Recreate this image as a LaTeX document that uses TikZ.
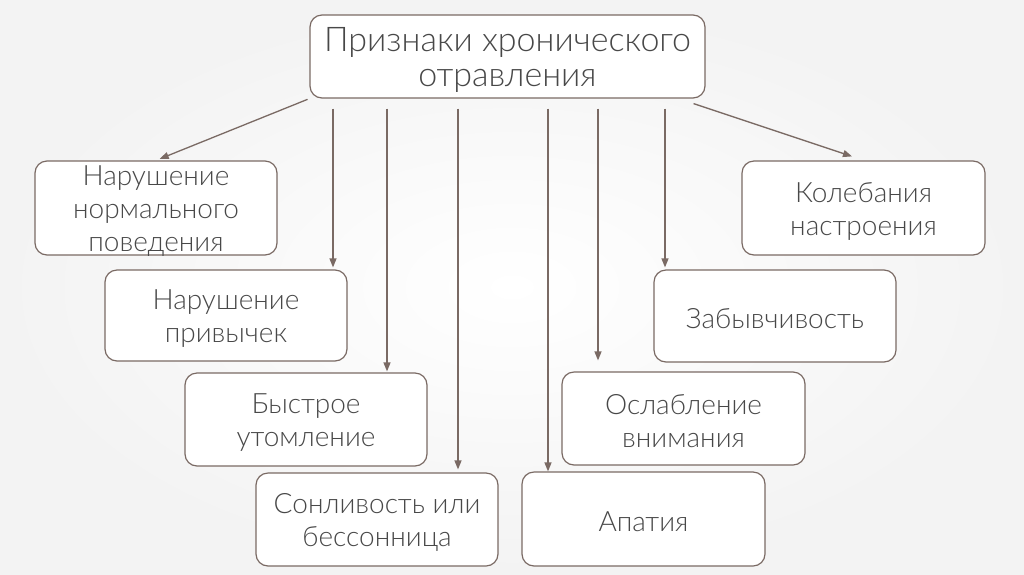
\documentclass[tikz,border=0pt]{standalone}
\usepackage{fontspec}
\setmainfont{Lato Light}
\usetikzlibrary{arrows.meta,calc}
\definecolor{edge}{RGB}{122,106,100}
\definecolor{txt}{RGB}{72,72,72}
\definecolor{bgout}{RGB}{243,243,243}
\begin{document}
\begin{tikzpicture}[x=1pt,y=-1pt,
  box/.style={draw=edge,line width=1.2pt,fill=white,rounded corners=12pt,
    inner sep=0pt,minimum width=242pt},
  lbl/.style={inner sep=0pt,align=center,text=txt,font=\fontsize{28}{33}\selectfont},
  arr/.style={draw=edge,line width=1.3pt,-{Triangle[length=9pt,width=7pt]}}]
\useasboundingbox (0,0) rectangle (1024,574);
\shade[inner color=white,outer color=bgout] (0,0) rectangle (1024,574);
\node[box,minimum width=395pt,minimum height=83pt] (top) at (507.5,56.5) {};
\node[lbl,font=\fontsize{34}{35}\selectfont] (ttop) at ($(top.center)+(0,3.5)$) {Признаки хронического\\отравления};
\node[box,minimum height=94pt] (b1) at (156,208) {};
\node[lbl] (t1) at ($(b1.center)+(0,3)$) {Нарушение\\нормального\\поведения};
\node[box,minimum height=91pt] (b2) at (226,315.5) {};
\node[lbl] (t2) at ($(b2.center)+(0,3)$) {Нарушение\\привычек};
\node[box,minimum height=93pt] (b3) at (306,419.5) {};
\node[lbl] (t3) at ($(b3.center)+(0,3)$) {Быстрое\\утомление};
\node[box,minimum height=93pt] (b4) at (377,519.5) {};
\node[lbl] (t4) at ($(b4.center)+(0,3)$) {Сонливость или\\бессонница};
\node[box,minimum width=243pt,minimum height=94pt] (b5) at (643.5,519) {};
\node[lbl] (t5) at ($(b5.center)+(0,3)$) {Апатия};
\node[box,minimum width=243pt,minimum height=93pt] (b6) at (683.5,418.5) {};
\node[lbl] (t6) at ($(b6.center)+(0,3)$) {Ослабление\\внимания};
\node[box,minimum height=92pt] (b7) at (775,316) {};
\node[lbl] (t7) at ($(b7.center)+(0,3)$) {Забывчивость};
\node[box,minimum width=243pt,minimum height=94pt] (b8) at (863.5,208) {};
\node[lbl] (t8) at ($(b8.center)+(0,3)$) {Колебания\\настроения};
\draw[arr,shorten <=2pt,shorten >=4pt] (top.south west) -- (b1.north);
\draw[arr] ($(top.south east)+(-12,5)$) -- ($(b8.north)+(-11.5,-4)$);
\draw[arr,shorten <=10pt,shorten >=2pt] (333,0 |- top.south) -- (333,0 |- b2.north);
\draw[arr,shorten <=10pt,shorten >=1pt] (387,0 |- top.south) -- (387,0 |- b3.north);
\draw[arr,shorten <=10pt,shorten >=3pt] (458,0 |- top.south) -- (458,0 |- b4.north);
\draw[arr,shorten <=10pt] (548,0 |- top.south) -- (548,0 |- b5.north);
\draw[arr,shorten <=10pt,shorten >=11pt] (598,0 |- top.south) -- (598,0 |- b6.north);
\draw[arr,shorten <=10pt,shorten >=2pt] (665,0 |- top.south) -- (665,0 |- b7.north);
\end{tikzpicture}
\end{document}
